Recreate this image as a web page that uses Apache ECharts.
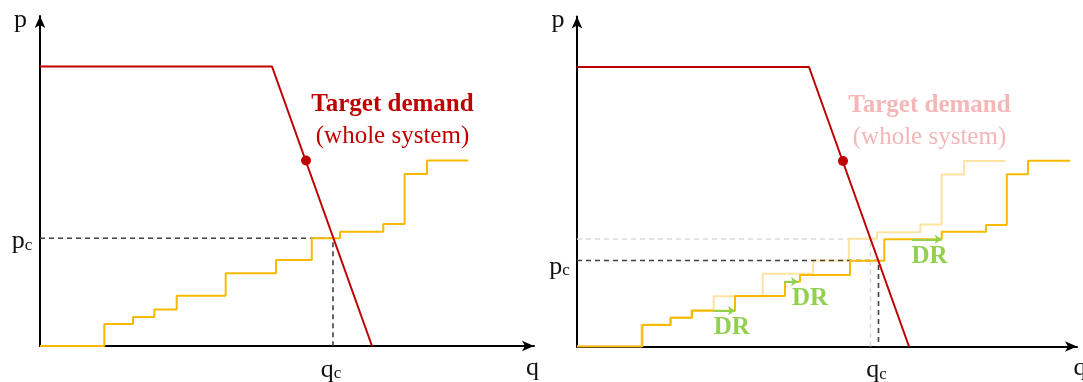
<!DOCTYPE html>
<html><head><meta charset="utf-8">
<script src="https://cdn.jsdelivr.net/npm/echarts@6/dist/echarts.min.js"></script>
<style>html,body{margin:0;padding:0;background:#fff}#c{width:1083px;height:382px}</style>
</head><body><div id="c"></div>
<script>
// ---- data (q = quantity units, p = price units) ----
const demandQ = [0, 232, 332];
const demandP = [279.5, 279.5, 0];
const refPoint = [266, 185.5];

const supplyLevels = [0, 22, 29, 36.5, 50.3, 72.7, 86, 107.7, 114.3, 122, 172, 185.5];
const supplyEdges  = [64.3, 93, 114.3, 136.7, 185.7, 236, 271.8, 300, 343.3, 364.6, 387];
const supplyEnd = 428.3;

const drLevels = [0, 21.5, 28.8, 35.8, 50.5, 64.8, 71.5, 85.8, 107.2, 114.8, 121.5, 172.2, 185.8];
const drEdges  = [65.3, 93.7, 115, 158, 208, 223, 273, 307.3, 364.7, 409, 429.8, 451];
const drEnd = 493;

const leftClear = { q: 293, p: 107.7 };
const rightClearOld = { q: 293.5, p: 107.5 };
const rightClearNew = { q: 301.5, p: 86 };

const drArrows = [
  [[136.5, 35.8], [158, 35.8]],
  [[207, 64.8], [221, 64.8]],
  [[335, 107.2], [364.7, 107.2]]
];
const drLabelPos = [[154.7, 18.5], [233, 47.5], [352.5, 89.8]];

const titleText = 'Target demand';
const subtitleText = '(whole system)';
const titlePos = [352.5, 241];
const subtitlePos = [352.5, 209.5];

// ---- helpers ----
const SERIF = '"Liberation Serif", "DejaVu Serif", serif';
const RED = '#c00000', ORANGE = '#f7b900', FAINT_OR = '#fde3a0', GREEN = '#92d050';

function stairs(levels, edges, end) {
  const pts = [[0, levels[0]]];
  for (let i = 0; i < edges.length; i++) {
    pts.push([edges[i], levels[i]]);
    pts.push([edges[i], levels[i + 1]]);
  }
  pts.push([end, levels[levels.length - 1]]);
  return pts;
}
const demand = demandQ.map((q, i) => [q, demandP[i]]);

function lineS(idx, data, color, width, extra) {
  return Object.assign({
    type: 'line', xAxisIndex: idx, yAxisIndex: idx, data: data,
    showSymbol: false, symbol: 'none', silent: true, animation: false,
    lineStyle: { color: color, width: width }
  }, extra || {});
}
function dashed(idx, clr, color, z) {
  return lineS(idx, [[0, clr.p], [clr.q, clr.p], [clr.q, 0]], color, 1.6,
    { lineStyle: { color: color, width: 1.6, type: [5, 4] }, z: z });
}
function textS(idx, items, z) {
  return {
    type: 'scatter', xAxisIndex: idx, yAxisIndex: idx, symbolSize: 0, clip: false,
    silent: true, animation: false, z: z || 10,
    itemStyle: { opacity: 1 },
    data: items.map(it => ({
      value: it.pos,
      label: Object.assign({ show: true, position: 'inside', formatter: it.text,
        fontFamily: SERIF, opacity: 1 }, it.style)
    }))
  };
}
const axisLbl = { fontSize: 26, color: '#111', fontFamily: SERIF };
const subRich = {
  a: { fontSize: 26, color: '#111', fontFamily: SERIF },
  b: { fontSize: 17, color: '#111', fontFamily: SERIF, padding: [8, 0, 0, 0] }
};

function axes(idx, xmax, ymax) {
  const common = {
    type: 'value', gridIndex: idx, min: 0,
    axisTick: { show: false }, axisLabel: { show: false }, splitLine: { show: false },
    axisLine: { show: true, symbol: ['none', 'arrow'], symbolSize: [8, 12],
      lineStyle: { color: '#000', width: 2 } }
  };
  return {
    x: Object.assign({}, common, { max: xmax }),
    y: Object.assign({}, common, { max: ymax })
  };
}
const a0 = axes(0, 494, 330), a1 = axes(1, 500, 330);

const dot = idx => ({ type: 'scatter', xAxisIndex: idx, yAxisIndex: idx, data: [refPoint],
  symbolSize: 10, itemStyle: { color: RED, opacity: 1 }, silent: true, animation: false, z: 5 });

const series = [
  // left panel
  dashed(0, leftClear, '#404040', 2),
  lineS(0, stairs(supplyLevels, supplyEdges, supplyEnd), ORANGE, 2, { z: 3 }),
  lineS(0, demand, RED, 2, { z: 4 }),
  dot(0),
  textS(0, [
    { pos: titlePos, text: titleText, style: { fontSize: 25, fontWeight: 'bold', color: RED } },
    { pos: subtitlePos, text: subtitleText, style: { fontSize: 25, color: RED } },
    { pos: [-19.5, 326], text: 'p', style: axisLbl },
    { pos: [492.5, -22], text: 'q', style: axisLbl },
    { pos: [-18, 104.5], text: '{a|p}{b|c}', style: { rich: subRich } },
    { pos: [291, -24], text: '{a|q}{b|c}', style: { rich: subRich } }
  ]),
  // right panel
  dashed(1, rightClearOld, '#d9d9d9', 1),
  lineS(1, stairs(supplyLevels, supplyEdges, supplyEnd), FAINT_OR, 2, { z: 1 }),
  dashed(1, rightClearNew, '#404040', 2),
  lineS(1, stairs(drLevels, drEdges, drEnd), ORANGE, 2, { z: 3 }),
  lineS(1, demand, RED, 2, { z: 4 }),
  dot(1),
  { type: 'lines', coordinateSystem: 'cartesian2d', xAxisIndex: 1, yAxisIndex: 1,
    polyline: false, silent: true, animation: false, z: 6,
    symbol: ['none', 'arrow'], symbolSize: 7,
    lineStyle: { color: GREEN, width: 2, opacity: 1 },
    data: drArrows.map(c => ({ coords: c })) },
  textS(1, [
    { pos: titlePos, text: titleText, style: { fontSize: 25, fontWeight: 'bold', color: '#f4b6b6' } },
    { pos: subtitlePos, text: subtitleText, style: { fontSize: 25, color: '#f4b6b6' } },
    { pos: [-19, 326.5], text: 'p', style: axisLbl },
    { pos: [503, -22], text: 'q', style: axisLbl },
    { pos: [-17.5, 79.8], text: '{a|p}{b|c}', style: { rich: subRich } },
    { pos: [299.5, -24], text: '{a|q}{b|c}', style: { rich: subRich } }
  ].concat(drLabelPos.map(p => ({ pos: p, text: 'DR',
    style: { fontSize: 25, fontWeight: 'bold', color: GREEN } }))))
];

const chart = echarts.init(document.getElementById('c'), null, { renderer: 'canvas' });
chart.setOption({
  animation: false,
  backgroundColor: '#fff',
  grid: [
    { left: 40, top: 16, width: 494, height: 330 },
    { left: 577, top: 16.5, width: 500, height: 330 }
  ],
  xAxis: [a0.x, a1.x],
  yAxis: [a0.y, a1.y],
  series: series
});
</script>
</body></html>
